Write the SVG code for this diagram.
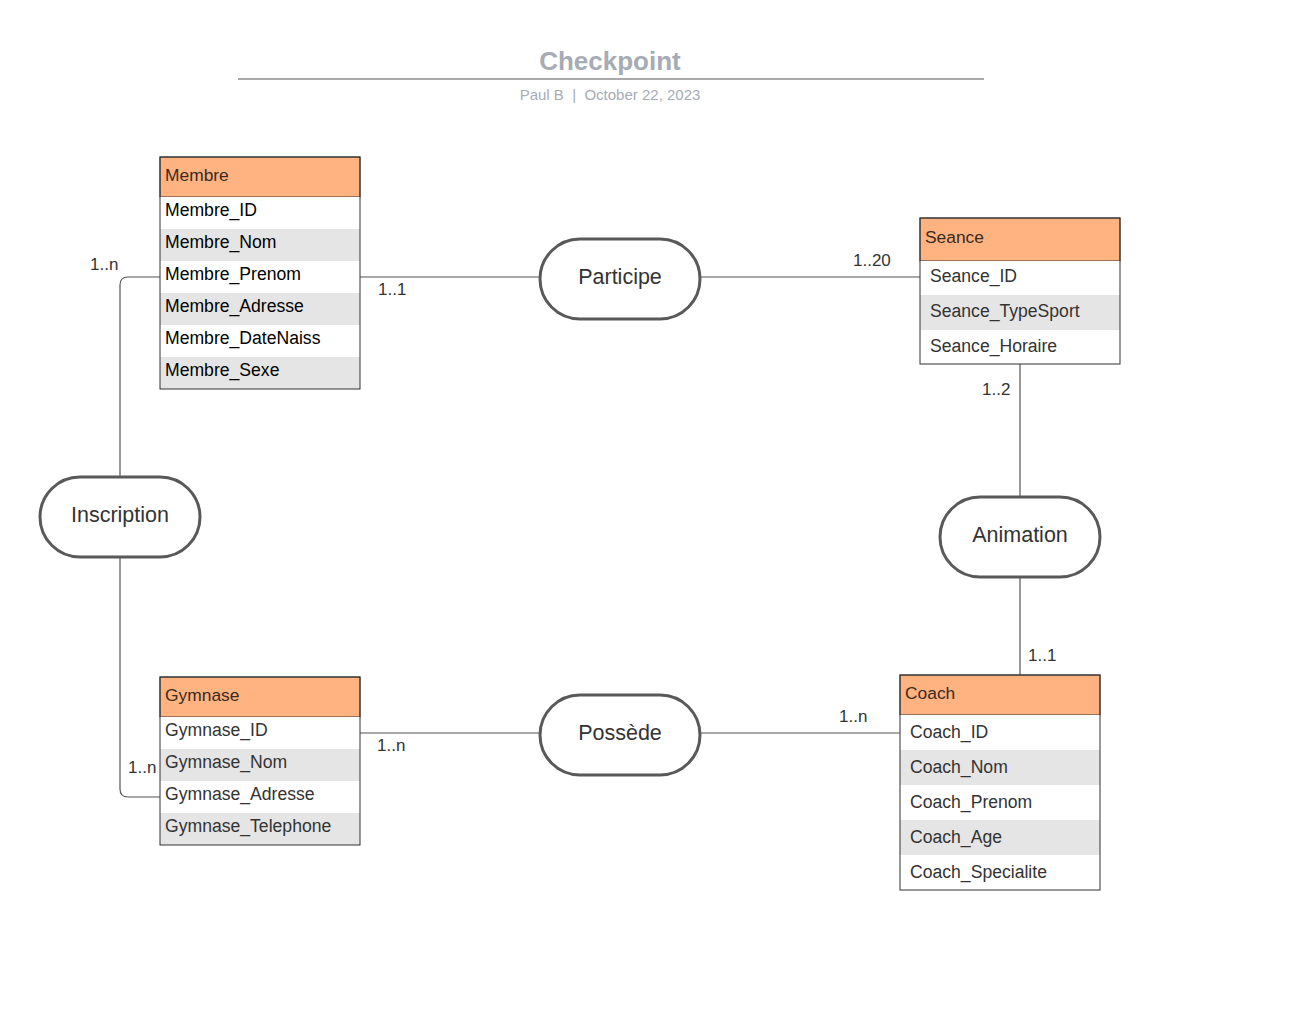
<svg xmlns="http://www.w3.org/2000/svg" width="1296" height="1012" viewBox="0 0 1296 1012">
<style>
text{font-family:"Liberation Sans",Arial,sans-serif}
.hdr{fill:#ffb380;stroke:#333;stroke-width:1}
.box{fill:none;stroke:#333;stroke-width:1}
.g{fill:#e5e5e5}
.w{fill:#fff}
.ht{font-size:17.4px;fill:#3a2a1f}
.rt{font-size:17.6px;fill:#333}
.mt{font-size:17.6px;fill:#000}
.rel{fill:#fff;stroke:#595959;stroke-width:3}
.relt{font-size:21.5px;fill:#333;text-anchor:middle}
.con{fill:none;stroke:#555;stroke-width:1.2}
.lab{font-size:17px;fill:#333}
</style>
<rect width="1296" height="1012" fill="#fff"/>
<g id="title">
<text x="610" y="70" text-anchor="middle" font-size="26" font-weight="bold" fill="#a6abb5">Checkpoint</text>
<line x1="238" y1="79" x2="984" y2="79" stroke="#a9a9a9" stroke-width="2"/>
<text x="610" y="100" text-anchor="middle" font-size="15" fill="#a6abb5">Paul B&#160;&#160;|&#160;&#160;October 22, 2023</text>
</g>
<g id="connectors">
<path class="con" d="M360 277H540"/>
<path class="con" d="M700 277H920"/>
<path class="con" d="M1020 364V497"/>
<path class="con" d="M1020 577V675"/>
<path class="con" d="M700 733H900"/>
<path class="con" d="M360 733H540"/>
<path class="con" d="M120 477V285Q120 277 128 277H160"/>
<path class="con" d="M120 557V789Q120 797 128 797H160"/>
<text class="lab" x="378" y="295">1..1</text>
<text class="lab" x="853" y="266">1..20</text>
<text class="lab" x="982" y="395">1..2</text>
<text class="lab" x="1028" y="661">1..1</text>
<text class="lab" x="839" y="722">1..n</text>
<text class="lab" x="377" y="751">1..n</text>
<text class="lab" x="90" y="270">1..n</text>
<text class="lab" x="128" y="773">1..n</text>
</g>
<g id="membre">
<rect class="hdr" x="160" y="157" width="200" height="40"/>
<rect class="w" x="160" y="197" width="200" height="32"/>
<rect class="g" x="160" y="229" width="200" height="32"/>
<rect class="w" x="160" y="261" width="200" height="32"/>
<rect class="g" x="160" y="293" width="200" height="32"/>
<rect class="w" x="160" y="325" width="200" height="32"/>
<rect class="g" x="160" y="357" width="200" height="32"/>
<rect class="box" x="160" y="157" width="200" height="232"/>
<text class="ht" x="165" y="181">Membre</text>
<text class="mt" x="165" y="216">Membre_ID</text>
<text class="mt" x="165" y="248">Membre_Nom</text>
<text class="mt" x="165" y="280">Membre_Prenom</text>
<text class="mt" x="165" y="312">Membre_Adresse</text>
<text class="mt" x="165" y="344">Membre_DateNaiss</text>
<text class="mt" x="165" y="376">Membre_Sexe</text>
</g>
<g id="seance">
<rect class="hdr" x="920" y="218" width="200" height="43"/>
<rect class="w" x="920" y="261" width="200" height="34"/>
<rect class="g" x="920" y="295" width="200" height="35"/>
<rect class="w" x="920" y="330" width="200" height="34"/>
<rect class="box" x="920" y="218" width="200" height="146"/>
<text class="ht" x="925" y="243">Seance</text>
<text class="rt" x="930" y="282">Seance_ID</text>
<text class="rt" x="930" y="317">Seance_TypeSport</text>
<text class="rt" x="930" y="352">Seance_Horaire</text>
</g>
<g id="gymnase">
<rect class="hdr" x="160" y="677" width="200" height="40"/>
<rect class="w" x="160" y="717" width="200" height="32"/>
<rect class="g" x="160" y="749" width="200" height="32"/>
<rect class="w" x="160" y="781" width="200" height="32"/>
<rect class="g" x="160" y="813" width="200" height="32"/>
<rect class="box" x="160" y="677" width="200" height="168"/>
<text class="ht" x="165" y="701">Gymnase</text>
<text class="rt" x="165" y="736">Gymnase_ID</text>
<text class="rt" x="165" y="768">Gymnase_Nom</text>
<text class="rt" x="165" y="800">Gymnase_Adresse</text>
<text class="rt" x="165" y="832">Gymnase_Telephone</text>
</g>
<g id="coach">
<rect class="hdr" x="900" y="675" width="200" height="40"/>
<rect class="w" x="900" y="715" width="200" height="35"/>
<rect class="g" x="900" y="750" width="200" height="35"/>
<rect class="w" x="900" y="785" width="200" height="35"/>
<rect class="g" x="900" y="820" width="200" height="35"/>
<rect class="w" x="900" y="855" width="200" height="35"/>
<rect class="box" x="900" y="675" width="200" height="215"/>
<text class="ht" x="905" y="699">Coach</text>
<text class="rt" x="910" y="738">Coach_ID</text>
<text class="rt" x="910" y="773">Coach_Nom</text>
<text class="rt" x="910" y="808">Coach_Prenom</text>
<text class="rt" x="910" y="843">Coach_Age</text>
<text class="rt" x="910" y="878">Coach_Specialite</text>
</g>
<g id="participe">
<rect class="rel" x="540" y="239" width="160" height="80" rx="40"/>
<text class="relt" x="620" y="284">Participe</text>
</g>
<g id="inscription">
<rect class="rel" x="40" y="477" width="160" height="80" rx="40"/>
<text class="relt" x="120" y="522">Inscription</text>
</g>
<g id="animation">
<rect class="rel" x="940" y="497" width="160" height="80" rx="40"/>
<text class="relt" x="1020" y="542">Animation</text>
</g>
<g id="possede">
<rect class="rel" x="540" y="695" width="160" height="80" rx="40"/>
<text class="relt" x="620" y="740">Possède</text>
</g>
</svg>
